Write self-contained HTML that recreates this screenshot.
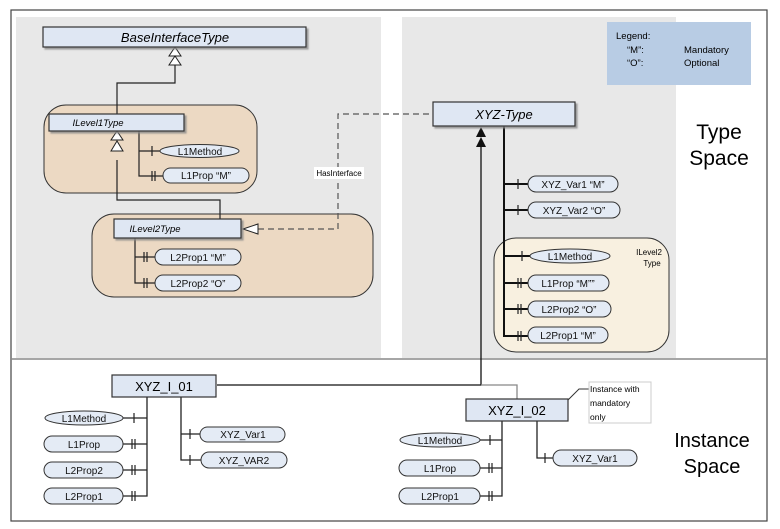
<!DOCTYPE html>
<html><head><meta charset="utf-8"><style>
html,body{margin:0;padding:0;background:#fff;}
svg{display:block;font-family:"Liberation Sans",sans-serif;}
.b{fill:#dfe7f3;stroke:#333;stroke-width:1.2}
.p{fill:#e4ebf5;stroke:#333;stroke-width:1}
.l{stroke:#222;stroke-width:1.2;fill:none}
.t{font-size:10px;fill:#111;text-anchor:middle}
</style></head><body>
<svg width="780" height="529" viewBox="0 0 780 529">
<defs>
<filter id="sh" x="-5%" y="-5%" width="115%" height="140%"><feDropShadow dx="2" dy="2" stdDeviation="0.8" flood-color="#888" flood-opacity="0.8"/></filter>
</defs>
<rect x="11" y="10" width="756" height="511" fill="#fff" stroke="#444" stroke-width="1.2"/>
<rect x="16" y="17" width="365" height="341" fill="#e8e8e8"/>
<rect x="402" y="17" width="274" height="341" fill="#e8e8e8"/>
<line x1="11" y1="359" x2="767" y2="359" stroke="#888" stroke-width="1.5"/>
<rect x="607" y="22" width="144" height="63" fill="#b8cce4"/>
<text x="616" y="39" font-size="9.5">Legend:</text>
<text x="627" y="53" font-size="9.5">“M”:</text><text x="684" y="53" font-size="9.5">Mandatory</text>
<text x="627" y="66" font-size="9.5">“O”:</text><text x="684" y="66" font-size="9.5">Optional</text>
<text x="719" y="139" font-size="21" text-anchor="middle">Type</text>
<text x="719" y="165" font-size="21" text-anchor="middle">Space</text>
<text x="712" y="447" font-size="20" text-anchor="middle">Instance</text>
<text x="712" y="473" font-size="20" text-anchor="middle">Space</text>

<!-- left regions -->
<rect x="44" y="105" width="213" height="88" rx="22" fill="#ecd9c3" stroke="#333"/>
<rect x="92" y="214" width="281" height="83" rx="22" fill="#ecd9c3" stroke="#333"/>
<rect x="494" y="238" width="175" height="114" rx="22" fill="#f8f0e0" stroke="#333"/>

<!-- connectors left -->
<path class="l" d="M117 114 V83 H175 V64"/>
<polygon points="175,47 169,56 181,56" fill="#fff" stroke="#222"/>
<polygon points="175,56 169,65 181,65" fill="#fff" stroke="#222"/>
<path class="l" d="M220 219 V200 H117 V160"/>
<polygon points="117,131 111,140 123,140" fill="#fff" stroke="#222"/>
<polygon points="117,141 111,151 123,151" fill="#fff" stroke="#222"/>
<path class="l" d="M139 131 V176 H163 M139 151 H160 M152 146 V156 M152 171 V181 M155 171 V181"/>
<path d="M258 229 H338 V114 H433" stroke="#555" stroke-width="1.2" stroke-dasharray="6,4" fill="none"/>
<polygon points="243,229 258,224 258,234" fill="#fff" stroke="#222"/>
<rect x="314" y="167" width="50" height="12" fill="#fff"/>
<text x="339" y="176" font-size="8" text-anchor="middle">HasInterface</text>
<path class="l" d="M135 238 V283 H155 M135 257 H155 M144 252 V262 M147 252 V262 M144 278 V288 M147 278 V288"/>

<rect class="b" filter="url(#sh)" x="43" y="27" width="263" height="20"/>
<text x="175" y="42" font-size="13" font-style="italic" text-anchor="middle">BaseInterfaceType</text>
<rect class="b" filter="url(#sh)" x="49" y="114" width="135" height="17"/>
<text x="98" y="126" font-size="9.5" font-style="italic" text-anchor="middle">ILevel1Type</text>
<rect class="b" filter="url(#sh)" x="114" y="219" width="127" height="19"/>
<text x="155" y="232" font-size="9.5" font-style="italic" text-anchor="middle">ILevel2Type</text>
<ellipse class="p" cx="199.5" cy="151" rx="39.5" ry="6.5"/><text class="t" x="200" y="155">L1Method</text>
<rect class="p" x="163" y="168" width="86" height="15" rx="7.5"/><text class="t" x="206" y="179">L1Prop “M”</text>
<rect class="p" x="155" y="249" width="86" height="16" rx="8"/><text class="t" x="198" y="261">L2Prop1  “M”</text>
<rect class="p" x="155" y="275" width="86" height="16" rx="8"/><text class="t" x="198" y="287">L2Prop2 “O”</text>

<!-- right type -->
<path d="M504 126 V336 H528 M504 184 H528 M504 210 H528 M504 256 H530 M504 283 H528 M504 309 H528" stroke="#111" stroke-width="2" fill="none"/>
<path class="l" d="M518 179 V189 M518 205 V215 M522 251 V261 M518 278 V288 M521 278 V288 M518 304 V314 M521 304 V314 M518 331 V341 M521 331 V341"/>
<path d="M481 146 V385 H217" stroke="#111" stroke-width="1.3" fill="none"/>
<polygon points="481,127 476,137 486,137" fill="#111"/>
<polygon points="481,137 476,147 486,147" fill="#111"/>
<rect class="b" filter="url(#sh)" x="433" y="102" width="142" height="24"/>
<text x="504" y="119" font-size="13" font-style="italic" text-anchor="middle">XYZ-Type</text>
<rect class="p" x="528" y="176" width="90" height="16" rx="8"/><text class="t" x="573" y="188">XYZ_Var1 “M”</text>
<rect class="p" x="528" y="202" width="92" height="16" rx="8"/><text class="t" x="574" y="214">XYZ_Var2 “O”</text>
<ellipse class="p" cx="570" cy="256" rx="40" ry="7"/><text class="t" x="570" y="260">L1Method</text>
<rect class="p" x="528" y="275" width="81" height="16" rx="8"/><text class="t" x="568" y="287">L1Prop “M””</text>
<rect class="p" x="528" y="301" width="83" height="16" rx="8"/><text class="t" x="569" y="313">L2Prop2 “O”</text>
<rect class="p" x="528" y="327" width="80" height="16" rx="8"/><text class="t" x="568" y="339">L2Prop1 “M”</text>
<text x="649" y="255" font-size="8" text-anchor="middle">ILevel2</text>
<text x="652" y="266" font-size="8" text-anchor="middle">Type</text>

<!-- instance -->
<path d="M481 385 H517 V399" stroke="#888" stroke-width="1.3" fill="none"/>
<path d="M147 397 V496 H123 M147 418 H123 M147 444 H123 M147 470 H123 M181 397 V460 H201 M181 434 H200" stroke="#222" stroke-width="1.3" fill="none"/>
<path class="l" d="M134 413 V423 M132 439 V449 M135 439 V449 M132 465 V475 M135 465 V475 M132 491 V501 M135 491 V501 M190 429 V439 M190 455 V465"/>
<rect class="b" x="112" y="375" width="104" height="22"/>
<text x="164" y="391" font-size="13" text-anchor="middle">XYZ_I_01</text>
<ellipse class="p" cx="84" cy="418" rx="39" ry="7"/><text class="t" x="84" y="422">L1Method</text>
<rect class="p" x="44" y="436" width="79" height="16" rx="8"/><text class="t" x="84" y="448">L1Prop</text>
<rect class="p" x="44" y="462" width="79" height="16" rx="8"/><text class="t" x="84" y="474">L2Prop2</text>
<rect class="p" x="44" y="488" width="79" height="16" rx="8"/><text class="t" x="84" y="500">L2Prop1</text>
<rect class="p" x="200" y="427" width="85" height="15" rx="7.5"/><text class="t" x="243" y="438">XYZ_Var1</text>
<rect class="p" x="201" y="452" width="86" height="16" rx="8"/><text class="t" x="244" y="464">XYZ_VAR2</text>

<path d="M502 421 V496 H480 M502 440 H480 M502 468 H480 M537 421 V458 H553" stroke="#222" stroke-width="1.3" fill="none"/>
<path class="l" d="M490 435 V445 M489 463 V473 M492 463 V473 M489 491 V501 M492 491 V501 M545 453 V463"/>
<rect class="b" x="466" y="399" width="102" height="22"/>
<text x="517" y="415" font-size="13" text-anchor="middle">XYZ_I_02</text>
<ellipse class="p" cx="440" cy="440" rx="40" ry="7"/><text class="t" x="440" y="444">L1Method</text>
<rect class="p" x="399" y="460" width="81" height="16" rx="8"/><text class="t" x="440" y="472">L1Prop</text>
<rect class="p" x="399" y="488" width="81" height="16" rx="8"/><text class="t" x="440" y="500">L2Prop1</text>
<rect class="p" x="553" y="450" width="84" height="16" rx="8"/><text class="t" x="595" y="462">XYZ_Var1</text>
<path d="M568 400 L579 389 H589" stroke="#333" fill="none"/>
<rect x="589" y="382" width="62" height="41" fill="#fff" stroke="#ccc"/>
<text x="590" y="392" font-size="8.5">Instance with</text>
<text x="590" y="406" font-size="8.5">mandatory</text>
<text x="590" y="420" font-size="8.5">only</text>
</svg>
</body></html>
